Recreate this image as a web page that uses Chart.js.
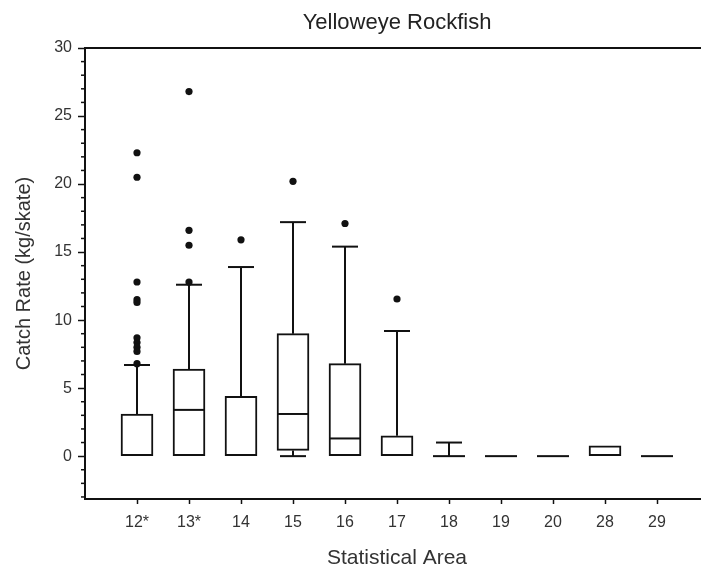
<!DOCTYPE html>
<html>
<head>
<meta charset="utf-8">
<title>Yelloweye Rockfish</title>
<script src="https://cdn.jsdelivr.net/npm/chart.js@4.4.0/dist/chart.umd.min.js"></script>
<style>
  html, body { margin: 0; padding: 0; background: #fff; overflow: hidden; }
  #wrap { width: 713px; height: 571px; }
</style>
</head>
<body>
<div id="wrap"><canvas id="myChart" width="713" height="571"></canvas></div>
<script>
// Kategorien (Statistical Area)
const areas = ['12*', '13*', '14', '15', '16', '17', '18', '19', '20', '28', '29'];

// Boxplot-Werte pro Gebiet (kg/skate)
const q1 = [0, 0, 0, 0.42, 0, 0, 0, 0, 0, 0, 0];
const median = [0, 3.4, 0, 3.1, 1.3, 0, 0, 0, 0, 0, 0];
const q3 = [3.1, 6.4, 4.4, 9.0, 6.8, 1.5, 0, 0, 0, 0.75, 0];
const whiskerLow = [0, 0, 0, 0, 0, 0, 0, 0, 0, 0, 0];
const whiskerHigh = [6.7, 12.6, 13.9, 17.2, 15.4, 9.2, 1.0, 0, 0, 0.75, 0];

// Ausreisser: Gebiet + Wert
const outlierArea = ['12*', '12*', '12*', '12*', '12*', '12*', '12*', '12*', '12*', '12*',
                     '13*', '13*', '13*', '13*', '14', '15', '16', '17'];
const outlierRate = [22.3, 20.5, 12.8, 11.5, 11.3, 8.7, 8.35, 8.0, 7.7, 6.8,
                     26.8, 16.6, 15.5, 12.8, 15.9, 20.2, 17.1, 11.55];

// Achsenbeschriftung y
const yTicks = [0, 5, 10, 15, 20, 25, 30];

Chart.defaults.font.family = "'Liberation Sans', Arial, sans-serif";

/* Whisker, Median, kleine Ticks und oberer Rahmen ----------------------*/
const boxExtras = {
    id: 'boxExtras',
    afterDatasetDraw(chart, args) {
        if (args.index !== 0) return;
        const ctx = chart.ctx;
        const x = chart.scales.x;
        const y = chart.scales.y;
        const bars = chart.getDatasetMeta(0).data;

        ctx.save();
        ctx.strokeStyle = '#111';
        ctx.lineWidth = 2;

        function line(x1, y1, x2, y2) {
            ctx.beginPath();
            ctx.moveTo(x1, y1);
            ctx.lineTo(x2, y2);
            ctx.stroke();
        }

        areas.forEach((a, i) => {
            const px = x.getPixelForValue(i + 1);
            const half = bars[i].width / 2;
            const cap = 13;

            // Median (nicht doppelt auf den Boxrand zeichnen)
            if (!(median[i] === q1[i] && q3[i] > q1[i])) {
                const pm = y.getPixelForValue(median[i]);
                line(px - half, pm, px + half, pm);
            }

            // oberer Whisker
            if (whiskerHigh[i] > q3[i]) {
                const top = y.getPixelForValue(whiskerHigh[i]);
                line(px, y.getPixelForValue(q3[i]), px, top);
                line(px - cap, top, px + cap, top);
            }
            // unterer Whisker
            if (whiskerLow[i] < q1[i]) {
                const bottom = y.getPixelForValue(whiskerLow[i]);
                line(px, y.getPixelForValue(q1[i]), px, bottom);
                line(px - cap, bottom, px + cap, bottom);
            }
        });
        ctx.restore();
    },
    afterDraw(chart) {
        const ctx = chart.ctx;
        const y = chart.scales.y;
        const area = chart.chartArea;

        ctx.save();
        ctx.strokeStyle = '#111';

        // kleine Ticks (jede Einheit)
        ctx.lineWidth = 1.5;
        for (let v = Math.ceil(y.min); v <= Math.floor(y.max); v++) {
            if (v % 5 === 0) continue;
            const py = y.getPixelForValue(v);
            ctx.beginPath();
            ctx.moveTo(area.left - 4, py);
            ctx.lineTo(area.left, py);
            ctx.stroke();
        }

        // Rahmen oben
        ctx.lineWidth = 2;
        ctx.beginPath();
        ctx.moveTo(area.left - 1, area.top);
        ctx.lineTo(area.right, area.top);
        ctx.stroke();
        ctx.restore();
    }
};

const ctx = document.getElementById('myChart');

const chart = new Chart(ctx, {
    type: 'bar',
    data: {
        datasets: [{
            type: 'bar',
            label: 'Box',
            data: areas.map((a, i) => ({ x: i + 1, y: [q1[i], q3[i]] })),
            backgroundColor: '#fff',
            borderColor: '#111',
            borderWidth: 2,
            borderSkipped: false,
            barThickness: 32
        }, {
            type: 'scatter',
            label: 'Ausreisser',
            data: outlierArea.map((a, i) => ({ x: areas.indexOf(a) + 1, y: outlierRate[i] })),
            backgroundColor: '#111',
            borderWidth: 0,
            pointRadius: 3.6,
            order: -1
        }]
    },
    options: {
        responsive: false,
        animation: false,
        devicePixelRatio: 1,
        layout: { padding: 0 },
        plugins: {
            legend: { display: false },
            tooltip: { enabled: false },
            title: {
                display: true,
                text: 'Yelloweye Rockfish',
                fullSize: false,
                color: '#222',
                font: { size: 22, weight: 'normal' },
                padding: { top: 10, bottom: 11.6 }
            }
        },
        scales: {
            x: {
                type: 'linear',
                min: 0,
                max: 12,
                offset: false,
                afterBuildTicks: s => { s.ticks = areas.map((a, i) => ({ value: i + 1 })); },
                afterFit: s => { s.height = 72; },
                ticks: {
                    callback: v => areas[v - 1],
                    color: '#333',
                    font: { size: 16 },
                    padding: 9,
                    autoSkip: false,
                    maxRotation: 0
                },
                grid: { offset: false, drawOnChartArea: false, tickLength: 5, tickColor: '#111', tickWidth: 1.5 },
                border: { display: true, color: '#111', width: 2 },
                title: {
                    display: true,
                    text: 'Statistical Area',
                    color: '#333',
                    font: { size: 21 },
                    padding: { top: 0, bottom: 0 }
                }
            },
            y: {
                min: -3.15,
                max: 30,
                afterBuildTicks: s => { s.ticks = yTicks.map(v => ({ value: v })); },
                afterFit: s => { s.width = 85; },
                ticks: { color: '#333', font: { size: 16 }, padding: 6 },
                grid: { drawOnChartArea: false, tickLength: 7, tickColor: '#111', tickWidth: 1.5 },
                border: { display: true, color: '#111', width: 2 },
                title: {
                    display: true,
                    text: 'Catch Rate (kg/skate)',
                    color: '#333',
                    font: { size: 20 },
                    padding: { top: 12, bottom: 0 }
                }
            }
        }
    },
    plugins: [boxExtras]
});
</script>
</body>
</html>
